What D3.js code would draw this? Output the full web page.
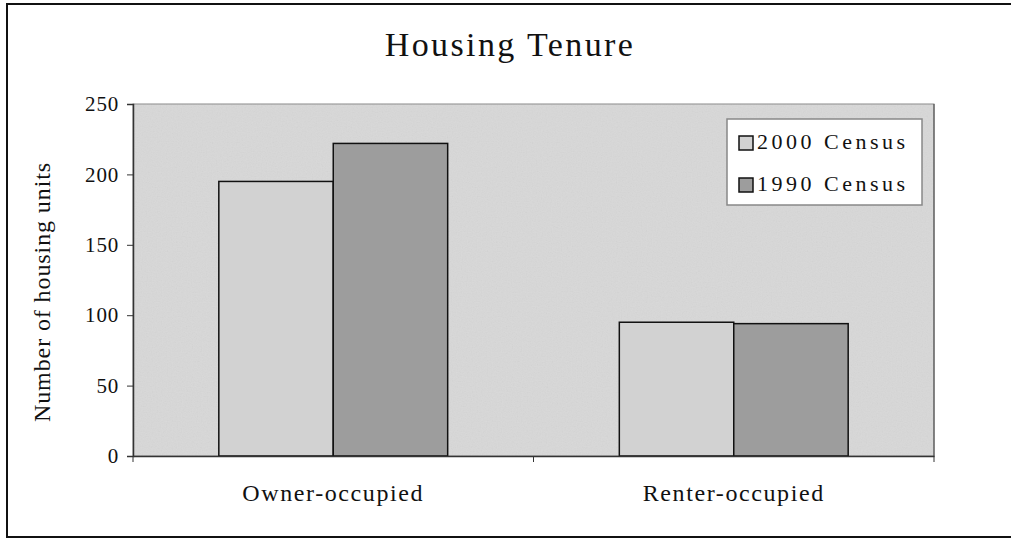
<!doctype html>
<head>
  <style>
    html, body {
      margin: 0;
      padding: 0;
      background: white;
    }
    svg text {
      font-family: "Liberation Serif", "Times New Roman", serif;
      fill: #111;
    }
  </style>
  <script src="https://cdn.jsdelivr.net/npm/d3@7"></script>
</head>
<body>
  <svg id="chart" width="1011" height="540"></svg>
  <script>
    // data
    var categories = ['Owner-occupied', 'Renter-occupied'];
    var series = ['2000 Census', '1990 Census'];
    var census2000 = [195, 95];
    var census1990 = [222, 94];
    var yTicks = [0, 50, 100, 150, 200, 250];
    var colors = ['#d2d2d2', '#9d9d9d'];

    var values = [census2000, census1990];

    var svg = d3.select('#chart');
    var plot = {left: 133, right: 934, top: 104, bottom: 456};

    // outer frame (right edge runs off the page)
    svg.append('rect')
        .attr('x', 7).attr('y', 4)
        .attr('width', 1020).attr('height', 533)
        .attr('fill', 'none')
        .attr('stroke', '#111')
        .attr('stroke-width', 2);

    var defs = svg.append('defs');
    var f = defs.append('filter').attr('id', 'grain')
        .attr('x', 0).attr('y', 0).attr('width', 1).attr('height', 1);
    f.append('feTurbulence')
        .attr('type', 'fractalNoise')
        .attr('baseFrequency', 0.8)
        .attr('numOctaves', 1)
        .attr('seed', 3);
    f.append('feColorMatrix')
        .attr('type', 'saturate').attr('values', 0);

    var x0 = d3.scaleBand()
        .domain(categories)
        .range([plot.left, plot.right]);
    var x1 = d3.scaleBand()
        .domain(series)
        .range([0, x0.bandwidth()])
        .paddingOuter(0.75);
    var y = d3.scaleLinear()
        .domain([0, 250])
        .range([plot.bottom, plot.top]);

    // plot area
    svg.append('rect')
        .attr('x', plot.left).attr('y', plot.top)
        .attr('width', plot.right - plot.left)
        .attr('height', plot.bottom - plot.top)
        .attr('fill', '#d8d8d8')
        .attr('stroke', '#8a8a8a');
    svg.append('rect')
        .attr('x', plot.left).attr('y', plot.top)
        .attr('width', plot.right - plot.left)
        .attr('height', plot.bottom - plot.top)
        .attr('filter', 'url(#grain)')
        .attr('opacity', 0.12);
    svg.append('line')
        .attr('x1', plot.right).attr('x2', plot.right)
        .attr('y1', plot.top).attr('y2', plot.bottom)
        .attr('stroke', '#444');

    // bars
    var groups = svg.selectAll('g.cat')
        .data(categories)
        .enter().append('g')
        .attr('class', 'cat')
        .attr('transform', function(d) { return 'translate(' + x0(d) + ',0)'; });

    groups.selectAll('rect')
        .data(function(d, i) {
          return series.map(function(s, j) { return {s: s, v: values[j][i], j: j}; });
        })
        .enter().append('rect')
        .attr('x', function(d) { return x1(d.s); })
        .attr('y', function(d) { return y(d.v); })
        .attr('width', x1.bandwidth())
        .attr('height', function(d) { return y(0) - y(d.v); })
        .attr('fill', function(d) { return colors[d.j]; })
        .attr('stroke', '#111')
        .attr('stroke-width', 1.5);

    // axes
    var yAxis = svg.append('g')
        .attr('transform', 'translate(' + plot.left + ',0)')
        .call(d3.axisLeft(y).tickValues(yTicks).tickSize(6).tickPadding(8));
    var xAxis = svg.append('g')
        .attr('transform', 'translate(0,' + plot.bottom + ')')
        .call(d3.axisBottom(x0).tickSize(0).tickPadding(28));

    // category separators like Excel puts them
    svg.selectAll('line.sep')
        .data([plot.left, x0(categories[1]), plot.right])
        .enter().append('line')
        .attr('class', 'sep')
        .attr('x1', function(d) { return d; })
        .attr('x2', function(d) { return d; })
        .attr('y1', plot.bottom)
        .attr('y2', plot.bottom + 6)
        .attr('stroke', '#333');

    [yAxis, xAxis].forEach(function(a) {
      a.select('.domain').attr('stroke', '#333').attr('stroke-width', 1.5);
      a.selectAll('.tick line').attr('stroke', '#333');
      a.selectAll('.tick text')
          .attr('font-family', '"Liberation Serif", serif')
          .attr('fill', '#111');
    });
    yAxis.selectAll('.tick text')
        .attr('font-size', 21)
        .attr('letter-spacing', 0.8);
    xAxis.selectAll('.tick text')
        .attr('font-size', 24)
        .attr('letter-spacing', 1.6)
        .attr('dy', '0.71em');

    // title
    svg.append('text')
        .attr('x', 510).attr('y', 56)
        .attr('text-anchor', 'middle')
        .attr('font-size', 34)
        .attr('letter-spacing', 2.4)
        .text('Housing Tenure');

    // y axis title
    svg.append('text')
        .attr('transform', 'translate(50,292) rotate(-90)')
        .attr('text-anchor', 'middle')
        .attr('font-size', 24)
        .attr('letter-spacing', 0.9)
        .text('Number of housing units');

    // legend
    var legend = svg.append('g').attr('transform', 'translate(727,119)');
    legend.append('rect')
        .attr('width', 195).attr('height', 86)
        .attr('fill', 'white')
        .attr('stroke', '#888')
        .attr('stroke-width', 1.5);
    var item = legend.selectAll('g.item')
        .data(series)
        .enter().append('g')
        .attr('class', 'item')
        .attr('transform', function(d, i) { return 'translate(12,' + (17 + i * 42) + ')'; });
    item.append('rect')
        .attr('width', 14).attr('height', 14)
        .attr('fill', function(d, i) { return colors[i]; })
        .attr('stroke', '#111')
        .attr('stroke-width', 1.5);
    item.append('text')
        .attr('x', 18).attr('y', 13)
        .attr('font-size', 22)
        .attr('letter-spacing', 3.5)
        .text(function(d) { return d; });
  </script>
</body>
